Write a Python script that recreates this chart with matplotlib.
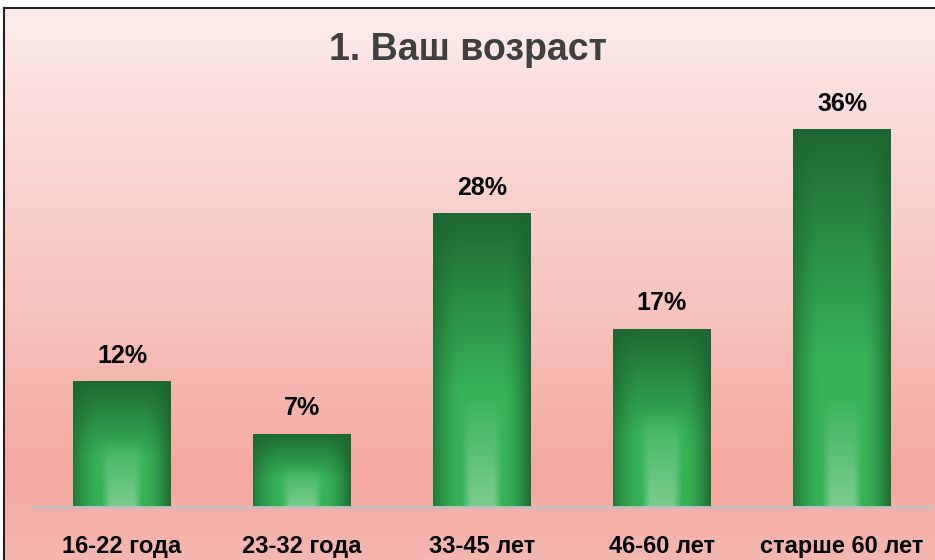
import numpy as np
import matplotlib.pyplot as plt
from matplotlib.colors import to_rgb

categories = ['16-22 года', '23-32 года', '33-45 лет', '46-60 лет', 'старше 60 лет']
values = [12, 7, 28, 17, 36]
labels = ['12%', '7%', '28%', '17%', '36%']

plt.rcParams['font.family'] = ['Liberation Sans', 'DejaVu Sans']

fig = plt.figure(figsize=(9.35, 5.6), dpi=100)

# pink background gradient over the whole figure
bg = fig.add_axes([0, 0, 1, 1], zorder=-2)
stops_y = [0.0, 0.15, 0.55, 0.85, 1.0]
stops_c = ['#fdf0ef', '#fbe0de', '#f7c3bd', '#f4a9a1', '#f6b7b1']
yy = np.linspace(0, 1, 300)
grad = np.stack([np.interp(yy, stops_y, [to_rgb(c)[k] for c in stops_c]) for k in range(3)], axis=-1)
bg.imshow(grad[:, None, :], aspect='auto', extent=(0, 1, 1, 0))
bg.set_xlim(0, 1)
bg.set_ylim(1, 0)
bg.axis('off')

# frame lines (top and left)
fig.add_artist(plt.Line2D([4 / 935, 1], [1 - 8 / 560, 1 - 8 / 560], color='#202020', lw=1.5))
fig.add_artist(plt.Line2D([4 / 935, 4 / 935], [0, 1 - 8 / 560], color='#202020', lw=1.5))
# white strip above / left of frame
fig.patches.append(plt.Rectangle((0, 1 - 7 / 560), 1, 7 / 560, transform=fig.transFigure,
                                 facecolor='white', edgecolor='none', zorder=-1))
fig.patches.append(plt.Rectangle((0, 0), 3.5 / 935, 1, transform=fig.transFigure,
                                 facecolor='white', edgecolor='none', zorder=-1))

ax = fig.add_axes([32 / 935, 53 / 560, 900 / 935, 420 / 560])
ax.set_facecolor('none')
x = np.arange(len(categories))
bars = ax.bar(x, values, width=0.54, color='none', edgecolor='none')


def bar_image(h_px):
    nh, nw = 200, 100
    t = np.linspace(0, 1, nh)[:, None]
    u = np.linspace(-1, 1, nw)[None, :]
    top = np.array(to_rgb('#1e6933'))
    mid = np.array(to_rgb('#36b258'))
    light = np.array(to_rgb('#82cf94'))
    edge = np.array(to_rgb('#1d6531'))
    f = np.clip(t / 0.6, 0, 1)[..., None]
    img = top * (1 - f) + mid * f
    e = (np.clip((np.abs(u) - 0.45) / 0.55, 0, 1) ** 1.6)[..., None] * 0.9
    e = e * np.where(u > 0, 1.0, 0.8)[..., None]
    img = img * (1 - e) + edge * e
    g0 = max(0.45, 1 - 110 / max(h_px, 1))
    gv = np.clip((t - g0) / (1 - g0), 0, 1) ** 0.9
    half = 0.32 + 0.1 * (1 - t)
    gh = np.clip((half - np.abs(u)) / 0.18 + 0.5, 0, 1)
    gl = (gv * gh)[..., None] * 0.9
    img = img * (1 - gl) + light * gl
    return img


px_per_unit = 420 / 40
for b, v, lab in zip(bars, values, labels):
    x0 = b.get_x()
    w = b.get_width()
    im = ax.imshow(bar_image(v * px_per_unit), extent=(x0, x0 + w, 0, v),
                   aspect='auto', origin='upper', zorder=2)
    im.set_clip_path(b)
    ax.text(x0 + w / 2, v + 2.4, lab, ha='center', va='center',
            fontsize=18, fontweight='bold', color='black')

ax.set_xlim(-0.5, len(categories) - 0.5)
ax.set_ylim(0, 40)
ax.set_xticks(x)
ax.set_xticklabels(categories, fontsize=17, fontweight='bold')
ax.tick_params(axis='x', length=0, pad=20)
ax.set_yticks([])
for s in ['top', 'right', 'left']:
    ax.spines[s].set_visible(False)
ax.spines['bottom'].set_color('#c0c0c0')
ax.spines['bottom'].set_linewidth(2)

fig.text(0.5, 1 - 50 / 560, '1. Ваш возраст', ha='center', va='center',
         fontsize=27, fontweight='bold', color='#404040')

fig.savefig('out.png', dpi=100)
